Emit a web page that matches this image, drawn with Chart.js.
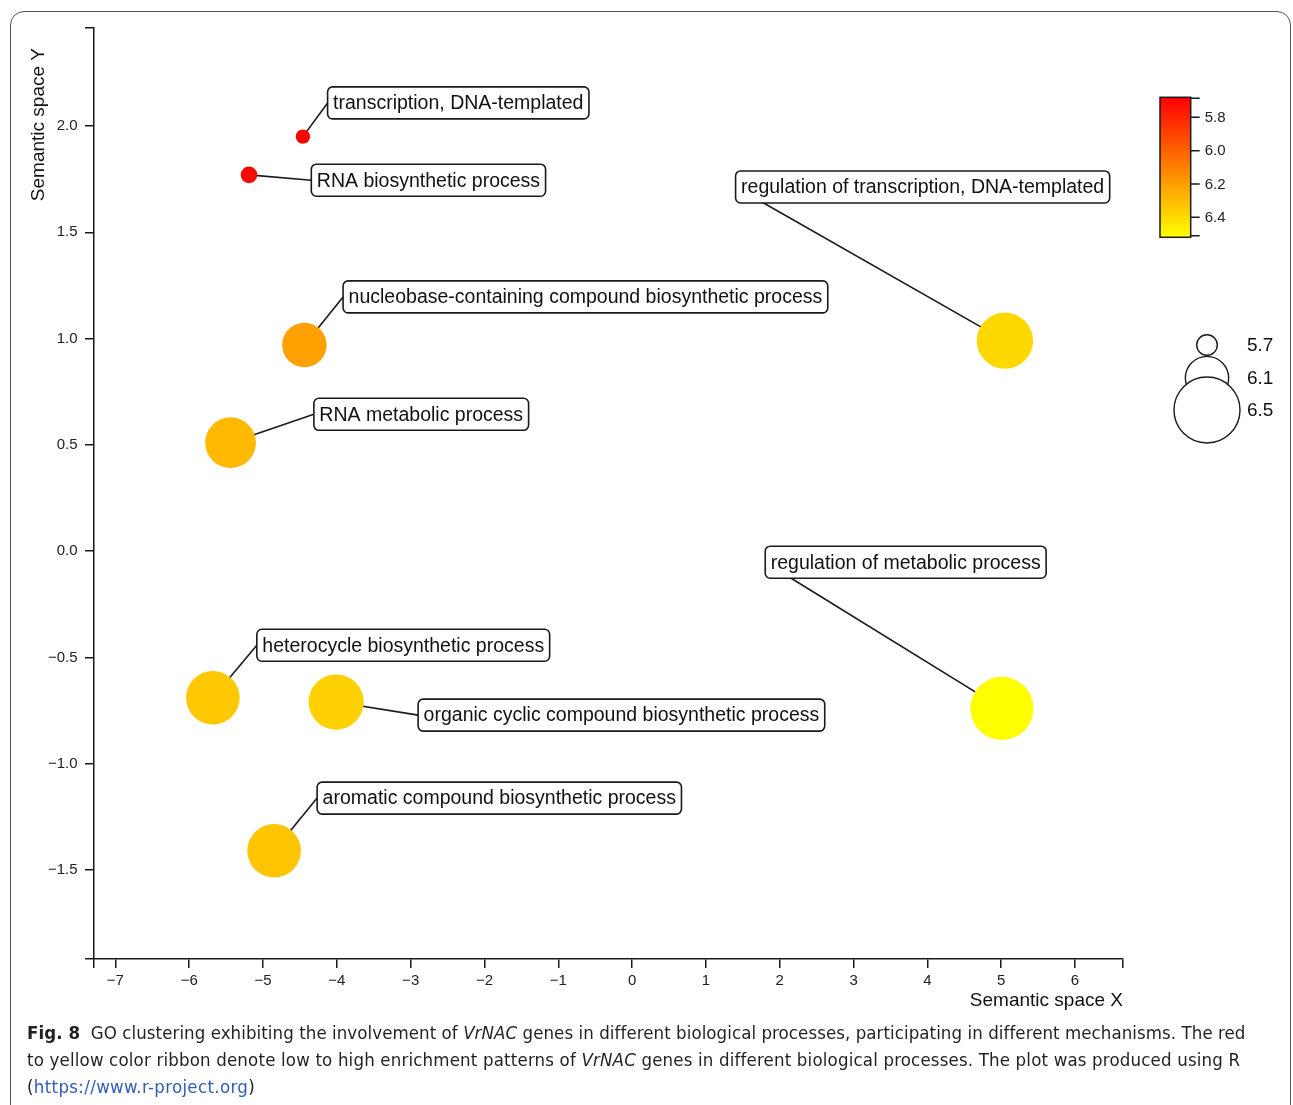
<!DOCTYPE html>
<html>
<head>
<meta charset="utf-8">
<script src="https://cdn.jsdelivr.net/npm/chart.js@4/dist/chart.umd.min.js"></script>
<style>
  html, body { margin: 0; padding: 0; background: #fff; width: 1293px; height: 1105px; overflow: hidden; }
  #frame { position: absolute; left: 10px; top: 11px; width: 1281px; height: 1200px;
           border: 1.4px solid #555; border-radius: 14px; box-sizing: border-box; }
  #plot { position: absolute; left: 0; top: 0; }
  #caption { position: absolute; left: 27px; top: 1019px; color: #231f20;
             font-family: "Liberation Sans Narrow", "DejaVu Sans Condensed", "Noto Sans", sans-serif;
             font-size: 18.5px; line-height: 27px; white-space: nowrap; }
  #caption div { display: block; width: max-content; }
  #caption b { font-weight: bold; }
  #caption .url { color: #2f5db8; }
</style>
</head>
<body>
<div id="frame"></div>
<canvas id="plot" width="1293" height="1020"></canvas>
<div id="caption">
  <div data-w="1218"><b>Fig. 8</b>&nbsp; GO clustering exhibiting the involvement of <i>VrNAC</i> genes in different biological processes, participating in different mechanisms. The red</div>
  <div data-w="1213">to yellow color ribbon denote low to high enrichment patterns of <i>VrNAC</i> genes in different biological processes. The plot was produced using R</div>
  <div data-w="228">(<span class="url">https://www.r-project.org</span>)</div>
</div>
<script>
// GO terms and their position in semantic space
const terms = [
  'transcription, DNA-templated',
  'RNA biosynthetic process',
  'nucleobase-containing compound biosynthetic process',
  'RNA metabolic process',
  'regulation of transcription, DNA-templated',
  'regulation of metabolic process',
  'heterocycle biosynthetic process',
  'organic cyclic compound biosynthetic process',
  'aromatic compound biosynthetic process'
];
const semanticX = [-4.46, -5.19, -4.44, -5.44, 5.05, 5.01, -5.68, -4.01, -4.85];
const semanticY = [1.95, 1.77, 0.97, 0.51, 0.99, -0.74, -0.69, -0.71, -1.41];
// value shown by the colour ribbon, and value shown by bubble size
const colourScore = [5.68, 5.70, 6.21, 6.29, 6.39, 6.52, 6.34, 6.37, 6.33];
const sizeScore = [5.59, 5.63, 6.12, 6.23, 6.33, 6.45, 6.28, 6.31, 6.28];

// axis ticks and legend keys
const xTicks = [-7, -6, -5, -4, -3, -2, -1, 0, 1, 2, 3, 4, 5, 6];
const yTicks = [-1.5, -1.0, -0.5, 0.0, 0.5, 1.0, 1.5, 2.0];
const colourBarTicks = [5.8, 6.0, 6.2, 6.4];
const sizeLegendValues = [5.7, 6.1, 6.5];

// axis ranges
const X_MIN = -7.29, X_MAX = 6.65;
const Y_MIN = -1.919, Y_MAX = 2.461;
const COLOUR_MIN = 5.68, COLOUR_MAX = 6.52;

// label box placement: offset (px) from bubble centre to the box's left-middle
const labelOffsets = [
  [24.7, -33.7], [62.3, 5.3], [38.7, -48], [83.3, -28.4], [-269.3, -153.7],
  [-236.7, -146.2], [44, -52.5], [82, 13.1], [43, -52.7]
];

const FONT = '"Liberation Sans", Arial, Helvetica, sans-serif';
const INK = '#1a1a1a';

function colourFor(v) {
  const t = Math.max(0, Math.min(1, (v - COLOUR_MIN) / (COLOUR_MAX - COLOUR_MIN)));
  return 'rgb(255,' + Math.round(255 * t) + ',0)';
}
function radiusFor(v) {
  return 10.3 + (v - 5.7) * 28.4;
}
function fmtMinus(s) { return s.replace('-', '\u2212'); }

const points = terms.map((t, i) => ({ x: semanticX[i], y: semanticY[i], r: radiusFor(sizeScore[i]) }));

const labelPlugin = {
  id: 'termLabels',
  beforeDatasetsDraw(chart) {
    const ctx = chart.ctx;
    const meta = chart.getDatasetMeta(0);
    ctx.save();
    ctx.strokeStyle = INK;
    ctx.lineWidth = 1.6;
    meta.data.forEach((el, i) => {
      const [dx, dy] = labelOffsets[i];
      ctx.beginPath();
      ctx.moveTo(el.x, el.y);
      ctx.lineTo(el.x + dx, el.y + dy);
      ctx.stroke();
    });
    ctx.restore();
  },
  afterDatasetsDraw(chart) {
    const ctx = chart.ctx;
    const meta = chart.getDatasetMeta(0);
    ctx.save();
    ctx.font = '19.5px ' + FONT;
    ctx.textBaseline = 'middle';
    meta.data.forEach((el, i) => {
      const [dx, dy] = labelOffsets[i];
      const left = el.x + dx, cy = el.y + dy;
      const w = ctx.measureText(terms[i]).width + 11;
      const h = 32;
      ctx.beginPath();
      ctx.roundRect(left, cy - h / 2, w, h, 5);
      ctx.fillStyle = '#fff';
      ctx.fill();
      ctx.strokeStyle = INK;
      ctx.lineWidth = 1.6;
      ctx.stroke();
      ctx.fillStyle = '#111';
      ctx.fillText(terms[i], left + 5.5, cy + 1);
    });
    ctx.restore();
  }
};

const legendPlugin = {
  id: 'sideLegends',
  afterDraw(chart) {
    const ctx = chart.ctx;
    const area = chart.chartArea;
    ctx.save();
    ctx.font = '19px ' + FONT;
    ctx.fillStyle = '#111';
    // x-axis title, right-aligned under the axis end
    ctx.textAlign = 'right';
    ctx.textBaseline = 'middle';
    ctx.fillText('Semantic space X', area.right, 1001);
    // y-axis title, aligned to the top of the axis
    ctx.translate(39, 48);
    ctx.rotate(-Math.PI / 2);
    ctx.fillText('Semantic space Y', 0, 0);
    ctx.restore();

    // colour ribbon
    const bx = 1160, bw = 30.7, btop = 97.3, bbot = 237.3;
    const yOf = v => btop + (v - COLOUR_MIN) / (COLOUR_MAX - COLOUR_MIN) * (bbot - btop);
    ctx.save();
    const grad = ctx.createLinearGradient(0, btop, 0, bbot);
    const steps = 20;
    for (let k = 0; k <= steps; k++) {
      grad.addColorStop(k / steps, colourFor(COLOUR_MIN + (COLOUR_MAX - COLOUR_MIN) * k / steps));
    }
    ctx.fillStyle = grad;
    ctx.fillRect(bx, btop, bw, bbot - btop);
    ctx.strokeStyle = INK;
    ctx.lineWidth = 1.5;
    ctx.strokeRect(bx, btop, bw, bbot - btop);
    ctx.beginPath();
    [COLOUR_MIN, ...colourBarTicks, COLOUR_MAX].forEach(v => {
      const y = Math.min(bbot - 1.5, Math.max(btop + 1, yOf(v)));
      ctx.moveTo(bx + bw, y);
      ctx.lineTo(bx + bw + 9, y);
    });
    ctx.stroke();
    ctx.font = '15px ' + FONT;
    ctx.fillStyle = '#222';
    ctx.textBaseline = 'middle';
    colourBarTicks.forEach(v => ctx.fillText(v.toFixed(1), bx + bw + 14, yOf(v) + 0.5));
    ctx.restore();

    // bubble size key
    const cx = 1207, keyY = [345, 378, 410];
    ctx.save();
    ctx.strokeStyle = INK;
    ctx.lineWidth = 1.4;
    ctx.fillStyle = '#fff';
    sizeLegendValues.forEach((v, k) => {
      ctx.beginPath();
      ctx.arc(cx, keyY[k], radiusFor(v), 0, Math.PI * 2);
      ctx.fill();
      ctx.stroke();
    });
    ctx.font = '19px ' + FONT;
    ctx.fillStyle = '#111';
    ctx.textBaseline = 'middle';
    sizeLegendValues.forEach((v, k) => ctx.fillText(v.toFixed(1), 1247, keyY[k] + 1));
    ctx.restore();
  }
};

const axisLine = { display: true, color: INK, width: 1.5 };
const axisGrid = { display: true, drawOnChartArea: false, drawTicks: true, tickLength: 9, color: INK, lineWidth: 1.5 };
const tickFont = { family: FONT, size: 15 };

new Chart(document.getElementById('plot'), {
  type: 'bubble',
  data: {
    datasets: [{
      data: points,
      backgroundColor: colourScore.map(colourFor),
      borderWidth: 0,
      hoverBorderWidth: 0,
      hoverRadius: 0
    }]
  },
  options: {
    responsive: false,
    animation: false,
    events: [],
    layout: { autoPadding: false, padding: { left: 0, top: 28, right: 170, bottom: 0 } },
    plugins: { legend: { display: false }, tooltip: { enabled: false } },
    scales: {
      x: {
        type: 'linear', min: X_MIN, max: X_MAX,
        border: axisLine, grid: axisGrid,
        afterBuildTicks: s => { s.ticks = [X_MIN, ...xTicks, X_MAX].map(v => ({ value: v })); },
        afterFit: s => { s.height = 61; s.paddingLeft = 0; s.paddingRight = 0; },
        ticks: {
          autoSkip: false, maxRotation: 0, minRotation: 0, padding: 3.5,
          color: '#222', font: tickFont,
          callback: v => (xTicks.includes(v) ? fmtMinus(String(v)) : '')
        }
      },
      y: {
        type: 'linear', min: Y_MIN, max: Y_MAX,
        border: axisLine, grid: axisGrid,
        afterBuildTicks: s => { s.ticks = [Y_MIN, ...yTicks, Y_MAX].map(v => ({ value: v })); },
        afterFit: s => { s.width = 94; s.paddingTop = 0; s.paddingBottom = 0; },
        ticks: {
          autoSkip: false, padding: 7.5,
          color: '#222', font: tickFont,
          callback: v => (yTicks.includes(v) ? fmtMinus(v.toFixed(1)) : '')
        }
      }
    }
  },
  plugins: [labelPlugin, legendPlugin]
});

// fit each caption line to its column width
document.querySelectorAll('#caption div').forEach(d => {
  const target = +d.dataset.w;
  const chars = d.textContent.length;
  const natural = d.getBoundingClientRect().width;
  d.style.letterSpacing = ((target - natural) / chars).toFixed(3) + 'px';
});
</script>
</body>
</html>
